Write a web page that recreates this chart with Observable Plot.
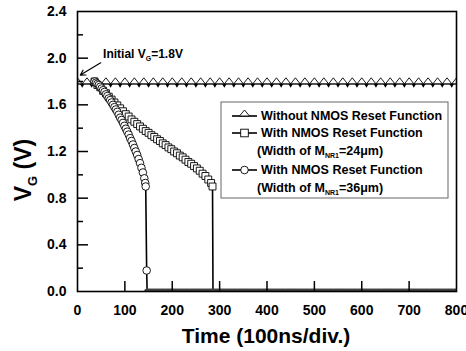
<!DOCTYPE html>
<html><head><meta charset="utf-8">
<script src="https://cdn.jsdelivr.net/npm/d3@7"></script>
<script src="https://cdn.jsdelivr.net/npm/@observablehq/plot@0.6"></script>
<style>body{margin:0;background:#fff} #chart{width:466px;height:351px}</style>
</head><body><div id="chart"></div>
<script>
// ---- data ----
const xTicks = [0, 100, 200, 300, 400, 500, 600, 700, 800];
const yMajor = [0.0, 0.4, 0.8, 1.2, 1.6, 2.0, 2.4];
const yMinor = [0.2, 0.6, 1.0, 1.4, 1.8, 2.2];

// Without NMOS reset: constant level
const timeNoReset = [0,20,40,60,80,100,120,140,160,180,200,220,240,260,280,300,320,340,360,380,400,420,440,460,480,500,520,540,560,580,600,620,640,660,680,700,720,740,760,780,800];
const vgNoResetLevel = 1.78;

// With NMOS reset, W = 24um (squares)
const time24 = [36,42,48,54,60,66,72,78,84,90,96,102,108,114,120,126,132,138,144,150,156,162,168,174,180,186,192,198,204,210,216,222,228,234,240,246,252,258,264,270,276,282,285,286,800];
const vg24   = [1.80,1.77,1.75,1.72,1.70,1.67,1.645,1.62,1.595,1.57,1.545,1.52,1.50,1.475,1.455,1.435,1.415,1.395,1.375,1.36,1.34,1.325,1.305,1.29,1.27,1.255,1.235,1.22,1.20,1.185,1.165,1.15,1.13,1.11,1.095,1.075,1.055,1.035,1.01,0.99,0.96,0.93,0.90,0.0,0.0];

// With NMOS reset, W = 36um (circles)
const time36 = [36,39,42,45,48,51,54,57,60,63,66,69,72,75,78,81,84,87,90,93,96,99,102,105,108,111,114,117,120,123,126,129,132,135,138,141,143,144,146,147,800];
const vg36   = [1.80,1.79,1.78,1.77,1.755,1.74,1.725,1.71,1.69,1.675,1.655,1.64,1.62,1.60,1.58,1.56,1.54,1.515,1.49,1.47,1.445,1.42,1.395,1.37,1.345,1.315,1.29,1.26,1.23,1.20,1.17,1.135,1.10,1.06,1.02,0.97,0.93,0.90,0.18,0.0,0.0];

const legendLabels = ["Without NMOS Reset Function", "With NMOS Reset Function", "=24\u03bcm)", "With NMOS Reset Function", "=36\u03bcm)"];

// ---- tables ----
const triData = timeNoReset.map(t => ({t, v: vgNoResetLevel}));
const sqData = time24.map((t, i) => ({t, v: vg24[i]}));
const ciData = time36.map((t, i) => ({t, v: vg36[i]}));
const zeroBand = ciData.filter(d => d.v === 0);
const arrowData = [{x1: 49, y1: 1.96, x2: 6, y2: 1.855}];

const FONT = "'Liberation Sans', Arial, Helvetica, sans-serif";

// flat up-triangle with its base on the data point
const flatTri = {draw(ctx, size) { const s = Math.sqrt(size); ctx.moveTo(0, -s); ctx.lineTo(0.78 * s, 0); ctx.lineTo(-0.78 * s, 0); ctx.closePath(); }};
const smallDown = {draw(ctx, size) { const s = Math.sqrt(size); ctx.moveTo(-0.6 * s, 0); ctx.lineTo(0.6 * s, 0); ctx.lineTo(0, s); ctx.closePath(); }};

const plot = Plot.plot({
  width: 466, height: 351,
  marginLeft: 77, marginRight: 10, marginTop: 11, marginBottom: 60,
  style: {fontFamily: FONT, background: "white", color: "black", overflow: "visible"},
  x: {domain: [0, 800]},
  y: {domain: [0, 2.4]},
  marks: [
    // no-reset series
    Plot.line(triData, {x: "t", y: "v", stroke: "black", strokeWidth: 1.5}),
    Plot.dot(triData, {x: "t", y: "v", symbol: smallDown, r: 2.2, fill: "black", stroke: "none", dx: 4.7, clip: true}),
    Plot.dot(triData, {x: "t", y: "v", symbol: flatTri, r: 3.4, fill: "white", stroke: "black", strokeWidth: 0.9, clip: true}),
    // 24um series
    Plot.line(sqData, {x: "t", y: "v", stroke: "black", strokeWidth: 1.6, clip: true}),
    Plot.dot(sqData.filter(d => d.v > 0), {x: "t", y: "v", symbol: "square", r: 3.9, fill: "white", stroke: "black", strokeWidth: 0.9}),
    // 36um series
    Plot.line(ciData, {x: "t", y: "v", stroke: "black", strokeWidth: 1.6, clip: true}),
    Plot.dot(ciData.filter(d => d.v > 0), {x: "t", y: "v", symbol: "circle", r: 3.8, fill: "white", stroke: "black", strokeWidth: 0.9}),
    // dense markers sitting on 0 (clipped half-markers)
    Plot.line(zeroBand, {x: "t", y: "v", stroke: "#444", strokeWidth: 6, strokeDasharray: "1,1.4", clip: true}),
    // annotation arrow
    Plot.arrow(arrowData, {x1: "x1", y1: "y1", x2: "x2", y2: "y2", stroke: "black", strokeWidth: 1.2, headLength: 7, bend: 0}),
    // frame & axes
    Plot.frame({stroke: "black", strokeWidth: 1.6}),
    Plot.axisX(xTicks, {anchor: "bottom", tickSize: 0, tickPadding: 14, fontSize: 14, fontWeight: "bold", label: null}),
    Plot.axisX(xTicks.slice(1, -1), {anchor: "bottom", tickSize: -10, tickFormat: () => "", label: null, strokeWidth: 1.5}),
    Plot.axisY(yMajor, {anchor: "left", tickSize: 0, tickPadding: 11, fontSize: 14, fontWeight: "bold", tickFormat: d3.format(".1f"), label: null}),
    Plot.axisY(yMajor.slice(1, -1), {anchor: "left", tickSize: -11, tickFormat: () => "", label: null, strokeWidth: 1.5}),
    Plot.axisY(yMinor, {anchor: "left", tickSize: -6, tickFormat: () => "", label: null, strokeWidth: 1.5})
  ]
});
document.getElementById("chart").appendChild(plot);

const svg = d3.select(plot);
const xs = plot.scale("x"), ys = plot.scale("y");

// annotation text
const ann = svg.append("text").attr("font-family", FONT).attr("font-weight", "bold").attr("font-size", 12)
  .attr("text-anchor", "start")
  .attr("x", xs.apply(55)).attr("y", ys.apply(2.0));
ann.append("tspan").text("Initial V");
ann.append("tspan").attr("font-size", 7).attr("dy", 3).text("G");
ann.append("tspan").attr("dy", -3).text("=1.8V");

// axis titles
svg.append("text").attr("font-family", FONT).attr("font-weight", "bold").attr("font-size", 21)
  .attr("text-anchor", "middle").attr("x", 266).attr("y", 343).text("Time (100ns/div.)");
const yt = svg.append("text").attr("font-family", FONT).attr("font-weight", "bold").attr("font-size", 23)
  .attr("text-anchor", "middle").attr("transform", "translate(31,170) rotate(-90)");
yt.append("tspan").text("V");
yt.append("tspan").attr("font-size", 13).attr("dy", 6).text("G");
yt.append("tspan").attr("dy", -6).text(" (V)");

// legend
const lg = svg.append("g").attr("font-family", FONT).attr("font-weight", "bold").attr("font-size", 12.5).attr("text-anchor", "start");
lg.append("rect").attr("x", 221).attr("y", 102).attr("width", 227).attr("height", 96)
  .attr("fill", "white").attr("stroke", "#666").attr("stroke-width", 1);
const symX0 = 232, symX1 = 257, symC = 244.5, txtX = 261;
const rowsY = [116, 133, 151, 170, 188];
function symRow(y, kind) {
  lg.append("line").attr("x1", symX0).attr("x2", symX1).attr("y1", y).attr("y2", y).attr("stroke", "black").attr("stroke-width", 1.6);
  if (kind === "tri") lg.append("path").attr("d", `M${symC},${y - 6}L${symC + 5},${y}L${symC - 5},${y}Z`).attr("fill", "white").attr("stroke", "black").attr("stroke-width", 0.9);
  if (kind === "sq") lg.append("rect").attr("x", symC - 3.8).attr("y", y - 3.8).attr("width", 7.6).attr("height", 7.6).attr("fill", "white").attr("stroke", "black").attr("stroke-width", 0.9);
  if (kind === "ci") lg.append("circle").attr("cx", symC).attr("cy", y).attr("r", 3.8).attr("fill", "white").attr("stroke", "black").attr("stroke-width", 0.9);
}
function txtRow(y, label, sub) {
  const t = lg.append("text").attr("y", y + 4.4);
  if (sub) {
    t.attr("x", txtX - 4);
    t.append("tspan").text("(Width of M");
    t.append("tspan").attr("font-size", 7).attr("dy", 3).text("NR1");
    t.append("tspan").attr("dy", -3).text(label);
  } else {
    t.attr("x", txtX).text(label);
  }
}
symRow(rowsY[0], "tri"); txtRow(rowsY[0], legendLabels[0]);
symRow(rowsY[1], "sq"); txtRow(rowsY[1], legendLabels[1]);
txtRow(rowsY[2], legendLabels[2], true);
symRow(rowsY[3], "ci"); txtRow(rowsY[3], legendLabels[3]);
txtRow(rowsY[4], legendLabels[4], true);
</script>
</body></html>
